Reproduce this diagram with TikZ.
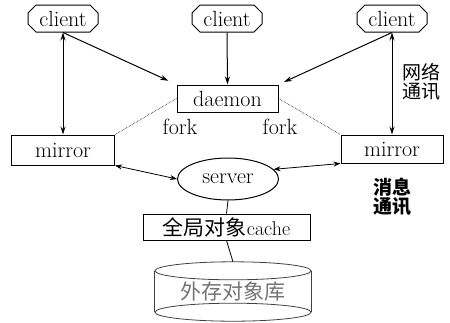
\documentclass[tikz,border=0pt]{standalone}
\usepackage{fontspec}
\newfontfamily\cjk{Noto Sans CJK SC}
\usetikzlibrary{shapes.misc,shapes.geometric,arrows.meta}
\begin{document}
\begin{tikzpicture}[x=1pt,y=-1pt,
  font=\fontsize{22}{24}\selectfont,
  every node/.style={inner sep=0pt},
  cl/.style={chamfered rectangle, chamfered rectangle xsep=4pt, chamfered rectangle ysep=4pt,
    draw, line width=1pt, minimum width=70pt, minimum height=27pt},
  bx/.style={draw, line width=1pt, rectangle},
  arr/.style={line width=1pt, -{Stealth[length=8pt,width=5pt]}},
  darr/.style={line width=1pt, {Stealth[length=8pt,width=5pt]}-{Stealth[length=8pt,width=5pt]}},
  sarr/.style={line width=0.8pt, {Stealth[length=7pt,width=5pt]}-{Stealth[length=7pt,width=5pt]}},
  dot/.style={line width=0.6pt, densely dotted},
  zh/.style={font=\cjk\fontsize{19}{19}\selectfont, align=center}]
\useasboundingbox (0,0) rectangle (450,322);
% clients
\node[cl] (lc) at (63,18.5) {client};
\node[cl] (cc) at (227,18.5) {client};
\node[cl] (rc) at (392,18.5) {client};
% daemon
\node[bx, minimum width=101pt, minimum height=27pt] (dm) at (227.5,98.5) {daemon};
% mirrors
\node[bx, minimum width=103pt, minimum height=30pt] (lm) at (63,150) {mirror};
\node[bx, minimum width=102pt, minimum height=28pt] (rm) at (392,149) {mirror};
% server
\node[draw, ellipse, line width=1pt, minimum width=101pt, minimum height=42pt] (sv) at (228,179) {server};
% cache
\node[bx, minimum width=167pt, minimum height=26pt] (ca) at (226.5,227)
  {{\cjk\fontsize{21}{24}\selectfont 全局对象}{\fontsize{20}{22}\selectfont cache}};
% storage cylinder
\node[minimum width=156pt, minimum height=41pt, text=black!55] (db) at (233,291.5)
  {\cjk\fontsize{21}{24}\selectfont 外存对象库};
\begin{scope}[line width=0.8pt, draw=black!75]
\draw (db.north) ellipse [x radius=78pt, y radius=9pt];
\draw (db.south) ellipse [x radius=78pt, y radius=9pt];
\draw (db.north west) -- (db.south west);
\draw (db.north east) -- (db.south east);
\end{scope}
% labels
\node (f1) at (180,127) {fork};
\node (f2) at (280,127) {fork};
\node[zh] (n1) at (421,82) {网络\\通讯};
\node[zh, font=\cjk\bfseries\fontsize{19}{19}\selectfont] (n2) at (392,197) {消息\\通讯};
% connectors
\draw[darr] (lc.south) -- (lm.north);
\draw[darr] (rc.south) -- (rm.north);
\draw[arr, shorten >=9pt] (lc.south) -- (dm.north west);
\draw[arr] (cc.south) -- (dm.north);
\draw[arr, shorten >=6pt] (rc.south) -- (dm.north east);
\draw[dot] (dm.west) -- (lm.north east);
\draw[dot] (dm.east) -- (rm.north west);
\draw[sarr] (lm.south east) -- (sv.west);
\draw[sarr] (sv.12) -- (rm.south west);
\draw[line width=0.8pt] (sv.south) -- (ca.north);
\draw[line width=0.8pt] (ca.south) -- ([yshift=9pt]db.north);
\end{tikzpicture}
\end{document}
